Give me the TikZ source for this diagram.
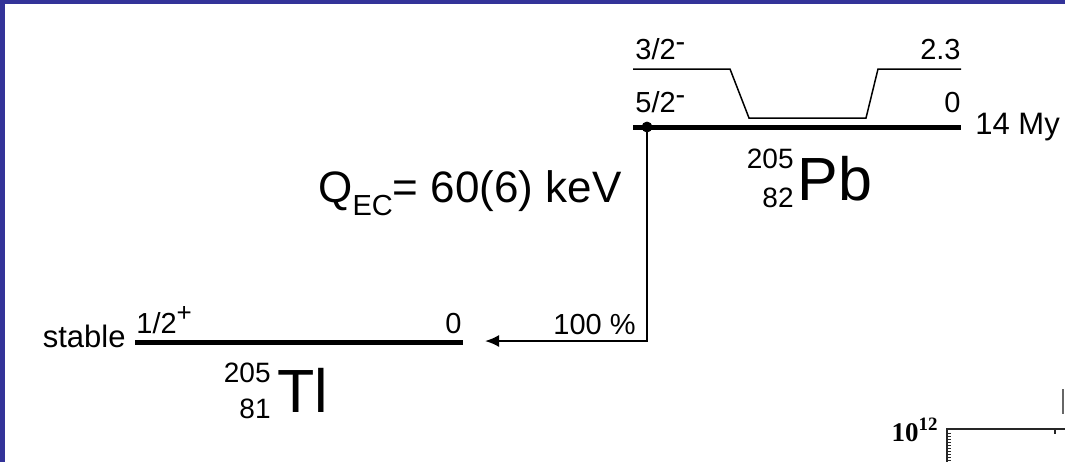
\documentclass[tikz,border=0pt]{standalone}
\usepackage{fontspec}
\setmainfont{Liberation Sans}
\newfontfamily\scanfont{Liberation Serif}
\usetikzlibrary{positioning,arrows.meta}
\definecolor{frameblue}{RGB}{51,51,153}
\tikzset{
  level/.style={
    line width = 2.5pt
  },
  band/.style={
    line width = 0.75pt
  },
  feeder/.style={
    inner sep = 0pt,
    minimum size = 5pt,
    shape = circle,
    draw,
    fill
  },
  spin/.style={
    anchor = base west,
    font = \fontsize{14.5}{14.5}\selectfont,
    inner sep = 0pt
  },
  energy/.style={
    anchor = base east,
    font = \fontsize{14.5}{14.5}\selectfont,
    inner sep = 0pt
  },
  element/.style={
    anchor = base west,
    font = \fontsize{30.5}{30.5}\selectfont,
    inner sep = 0pt
  },
  nucleon/.style={
    anchor = base east,
    font = \fontsize{14}{14}\selectfont,
    inner sep = 0pt
  }
}
\begin{document}
\begin{tikzpicture}[x=0.5pt,y=-0.5pt]
        \useasboundingbox (0,0) rectangle (1065,462);
        \fill[white] (0,0) rectangle (1065,462);
        \fill[frameblue] (0,0) rectangle (1065,4);
        \fill[frameblue] (0,0) rectangle (5,462);
        % 205Pb
        \coordinate (pbL) at (633,127);
        \coordinate (pbR) at (961,127);
        \draw[level] (pbL) -- (pbR);
        \draw[band] (633,69) -- (730,69) -- (749,118) -- (866,118) -- (878,69) -- (961,69);
        \node[spin] (pbex) at (635,59) {3/2\raisebox{4pt}{-}};
        \node[energy] (pbexE) at (961,59) {2.3};
        \node[spin] (pbgs) at (635,112) {5/2\raisebox{4pt}{-}};
        \node[energy] (pbgsE) at (961,112) {0};
        \node[spin, font=\fontsize{15.5}{15.5}\selectfont] (pbhalf) at (975,134) {14 My};
        \node[element] (pbname) at (797,200) {Pb};
        \node[nucleon] (pbA) at (794,168) {205};
        \node[nucleon] (pbZ) at (794,207) {82};
        \node[feeder] (feed) at (647,127) {};
        \node[anchor=base west, inner sep=0pt, font=\fontsize{22}{22}\selectfont] (qec) at (318,202)
            {Q\raisebox{-6.5pt}{\fontsize{14.5}{14.5}\selectfont EC}= 60(6) keV};
        % 205Tl
        \coordinate (tlL) at (135,342);
        \coordinate (tlR) at (463,342);
        \coordinate (tlin) at (485,341);
        \draw[level] (tlL) -- (tlR);
        \node[spin] (tlgs) at (136,333) {1/2\raisebox{6pt}{\fontsize{13}{13}\selectfont +}};
        \node[energy] (tlgsE) at (462,333) {0};
        \node[energy, font=\fontsize{15.5}{15.5}\selectfont] (tlstable) at (126,347) {stable};
        \node[element] (tlname) at (277,412) {Tl};
        \node[nucleon] (tlA) at (271,382) {205};
        \node[nucleon] (tlZ) at (271,418) {81};
        \draw[line width=1pt, -{Latex[length=7pt,width=6pt]}] (feed) |- (tlin);
        \node[energy] (branch) at (636,334) {100 \%};
        % scan fragment
        \node[inner sep=0pt, font=\scanfont\bfseries\fontsize{13.5}{13.5}\selectfont] (decade) at (915,430) {10\textsuperscript{12}};
        \draw[line width=1pt, black!85] (1065,429) -- (947,429) -- (947,462);
        \draw[line width=0.8pt, black!85] (1055,429) -- (1055,434);
        \draw[line width=0.8pt, black!60] (1063,389) -- (1063,414);
        \foreach \y in {433,436,...,460}
            \draw[line width=0.5pt, black!85] (947,\y) -- (951,\y);
\end{tikzpicture}
\end{document}
